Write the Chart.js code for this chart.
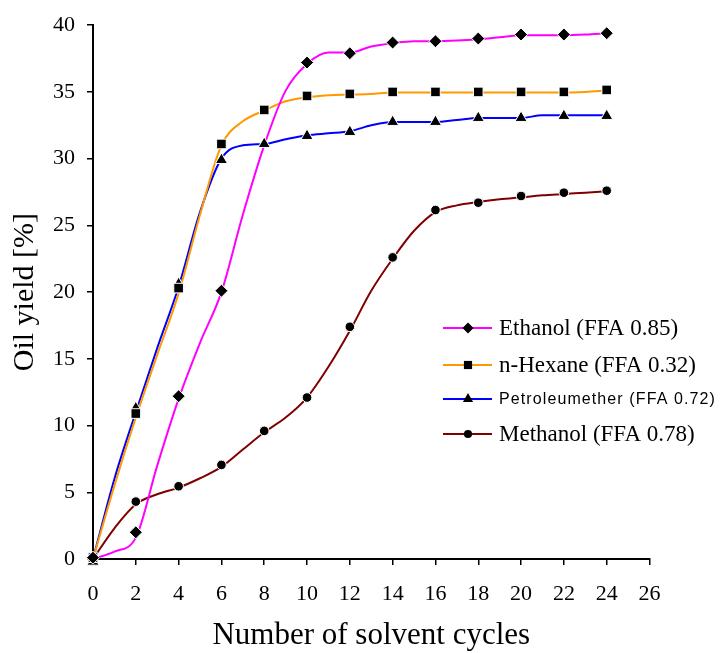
<!DOCTYPE html>
<html>
<head>
<meta charset="utf-8">
<script src="https://cdn.jsdelivr.net/npm/chart.js@4.4.1/dist/chart.umd.min.js"></script>
<style>
  html, body { margin: 0; padding: 0; background: #ffffff; }
  #wrap { width: 720px; height: 653px; }
</style>
</head>
<body>
<div id="wrap"><canvas id="c" width="720" height="653"></canvas></div>
<script>
// ---------- DATA ----------
const seriesNames = ['Ethanol (FFA 0.85)', 'n-Hexane (FFA 0.32)', 'Petroleumether (FFA 0.72)', 'Methanol (FFA 0.78)'];

// smoothed curve points (cycles 0..24)
const lineX = [0,1,2,3,4,5,6,7,8,9,10,11,12,13,14,15,16,17,18,19,20,21,22,23,24];
const ethanolLine    = [0, 0.55, 1.6, 7.0, 12.0, 16.2, 20.0, 25.8, 31.0, 35.1, 37.1, 37.95, 37.95, 38.4, 38.65, 38.8, 38.8, 38.85, 38.95, 39.1, 39.25, 39.25, 39.25, 39.3, 39.4];
const hexaneLine     = [0, 5.5, 10.6, 15.3, 19.9, 25.8, 31.0, 32.8, 33.6, 34.3, 34.6, 34.75, 34.8, 34.85, 34.95, 34.95, 34.95, 34.95, 34.95, 34.95, 34.95, 34.95, 34.95, 35.0, 35.1];
const petroLine      = [0, 6.0, 11.0, 15.8, 20.4, 26.0, 30.0, 31.0, 31.1, 31.45, 31.75, 31.9, 32.05, 32.5, 32.75, 32.75, 32.75, 32.9, 33.05, 33.05, 33.05, 33.25, 33.25, 33.25, 33.25];
const methanolLine   = [0, 2.3, 4.1, 4.85, 5.35, 6.05, 6.9, 8.2, 9.5, 10.6, 12.1, 14.4, 17.1, 20.1, 22.5, 24.6, 26.0, 26.5, 26.75, 26.95, 27.1, 27.25, 27.35, 27.45, 27.55];

// measured points (markers)
const markerX = [0,2,4,6,8,10,12,14,16,18,20,22,24];
const ethanolPts  = [0.1, 2.0, 12.2, 20.1, null, 37.2, 37.9, 38.7, 38.8, 39.0, 39.3, 39.3, 39.4];
const hexanePts   = [0.1, 10.9, 20.3, 31.1, 33.65, 34.7, 34.85, 35.0, 35.0, 35.0, 35.0, 35.0, 35.15];
const petroPts    = [-0.2, 11.3, 20.6, 29.9, 31.1, 31.7, 32.0, 32.75, 32.75, 33.05, 33.05, 33.2, 33.2];
const methanolPts = [0.1, 4.3, 5.45, 7.05, 9.6, 12.1, 17.4, 22.6, 26.15, 26.7, 27.2, 27.45, 27.6];

const xTicks = [0,2,4,6,8,10,12,14,16,18,20,22,24,26];
const yTicks = [0,5,10,15,20,25,30,35,40];

// ---------- STYLES ----------
const lineColors = ['#FF00FF', '#FF9900', '#0000FF', '#800000'];
const markerStyles = ['rectRot', 'rect', 'triangle', 'circle'];
const markerRadii = [6.5, 6.8, 7, 4.8];
const legendFonts = [
  {font: '23px "Liberation Serif", "Times New Roman", serif', spacing: '0px'},
  {font: '23px "Liberation Serif", "Times New Roman", serif', spacing: '0px'},
  {font: '16px "Liberation Sans", Arial, sans-serif', spacing: '1.1px'},
  {font: '23px "Liberation Serif", "Times New Roman", serif', spacing: '0px'}
];

const lineSets = [ethanolLine, hexaneLine, petroLine, methanolLine];
const ptSets = [ethanolPts, hexanePts, petroPts, methanolPts];

function toXY(xs, ys) {
  const out = [];
  xs.forEach((x, i) => { if (ys[i] !== null && ys[i] !== undefined) out.push({x: x, y: ys[i]}); });
  return out;
}

const datasets = [];
// markers first (drawn on top)
ptSets.forEach((ys, i) => {
  datasets.push({
    label: seriesNames[i] + ' points',
    data: toXY(markerX, ys),
    showLine: false,
    pointStyle: markerStyles[i],
    pointRadius: markerRadii[i],
    pointBackgroundColor: '#000000',
    pointBorderColor: '#ffffff',
    pointBorderWidth: 1,
    clip: false
  });
});
lineSets.forEach((ys, i) => {
  datasets.push({
    label: seriesNames[i],
    data: toXY(lineX, ys),
    showLine: true,
    borderColor: lineColors[i],
    borderWidth: 2,
    pointRadius: 0,
    cubicInterpolationMode: 'monotone',
    clip: false
  });
});

function drawMarker(ctx, style, x, y, r) {
  ctx.beginPath();
  if (style === 'rectRot') {
    ctx.moveTo(x, y - r); ctx.lineTo(x + r, y); ctx.lineTo(x, y + r); ctx.lineTo(x - r, y); ctx.closePath();
  } else if (style === 'rect') {
    const s = r * Math.SQRT1_2;
    ctx.rect(x - s, y - s, 2 * s, 2 * s);
  } else if (style === 'triangle') {
    const a = -Math.PI / 2;
    for (let k = 0; k < 3; k++) {
      const ang = a + k * 2 * Math.PI / 3;
      const px = x + Math.cos(ang) * r, py = y + Math.sin(ang) * r;
      if (k === 0) ctx.moveTo(px, py); else ctx.lineTo(px, py);
    }
    ctx.closePath();
  } else {
    ctx.arc(x, y, r, 0, Math.PI * 2);
  }
  ctx.fillStyle = '#000000';
  ctx.fill();
}

const legendLayout = {rowsY: [328, 365, 399, 434], lineX0: 443, lineX1: 492, markX: 468, textX: 499};

const customLegend = {
  id: 'customLegend',
  afterDraw(chart) {
    const ctx = chart.ctx;
    const L = legendLayout;
    ctx.save();
    seriesNames.forEach((name, i) => {
      const y = L.rowsY[i];
      ctx.strokeStyle = lineColors[i];
      ctx.lineWidth = 2;
      ctx.beginPath();
      ctx.moveTo(L.lineX0, y); ctx.lineTo(L.lineX1, y);
      ctx.stroke();
      drawMarker(ctx, markerStyles[i], L.markX, y, markerRadii[i] * 0.85);
      ctx.font = legendFonts[i].font;
      if ('letterSpacing' in ctx) ctx.letterSpacing = legendFonts[i].spacing;
      ctx.fillStyle = '#000000';
      ctx.textAlign = 'left';
      ctx.textBaseline = 'middle';
      ctx.fillText(name, L.textX, y + 1);
      if ('letterSpacing' in ctx) ctx.letterSpacing = '0px';
    });
    ctx.restore();
  }
};

const serif = '"Liberation Serif", "Times New Roman", serif';

new Chart(document.getElementById('c'), {
  type: 'scatter',
  data: { datasets: datasets },
  plugins: [customLegend],
  options: {
    responsive: false,
    animation: false,
    events: [],
    layout: { padding: { top: 19.5, right: 70.5, bottom: 0, left: 0 } },
    plugins: { legend: { display: false }, tooltip: { enabled: false } },
    scales: {
      x: {
        type: 'linear',
        min: 0, max: 26,
        afterBuildTicks: s => { s.ticks = xTicks.map(v => ({value: v})); },
        afterFit: s => { s.height = 94; },
        ticks: { color: '#000', font: { family: serif, size: 22 }, padding: 16, maxRotation: 0 },
        grid: { drawOnChartArea: false, drawTicks: true, tickLength: 6, color: '#000', lineWidth: 1.5 },
        border: { display: true, color: '#000', width: 2 },
        title: { display: true, text: 'Number of solvent cycles', color: '#000', font: { family: serif, size: 31, lineHeight: 1 }, padding: { top: 0, bottom: 2 } }
      },
      y: {
        type: 'linear',
        min: 0, max: 40,
        afterBuildTicks: s => { s.ticks = yTicks.map(v => ({value: v})); },
        afterFit: s => { s.width = 93; },
        ticks: { color: '#000', font: { family: serif, size: 22 }, padding: 12 },
        grid: { drawOnChartArea: false, drawTicks: true, tickLength: 6, color: '#000', lineWidth: 1.5 },
        border: { display: true, color: '#000', width: 2 },
        title: { display: true, text: 'Oil yield [%]', color: '#000', font: { family: serif, size: 30, lineHeight: 1 }, padding: { top: 10, bottom: 0 } }
      }
    }
  }
});
</script>
</body>
</html>
